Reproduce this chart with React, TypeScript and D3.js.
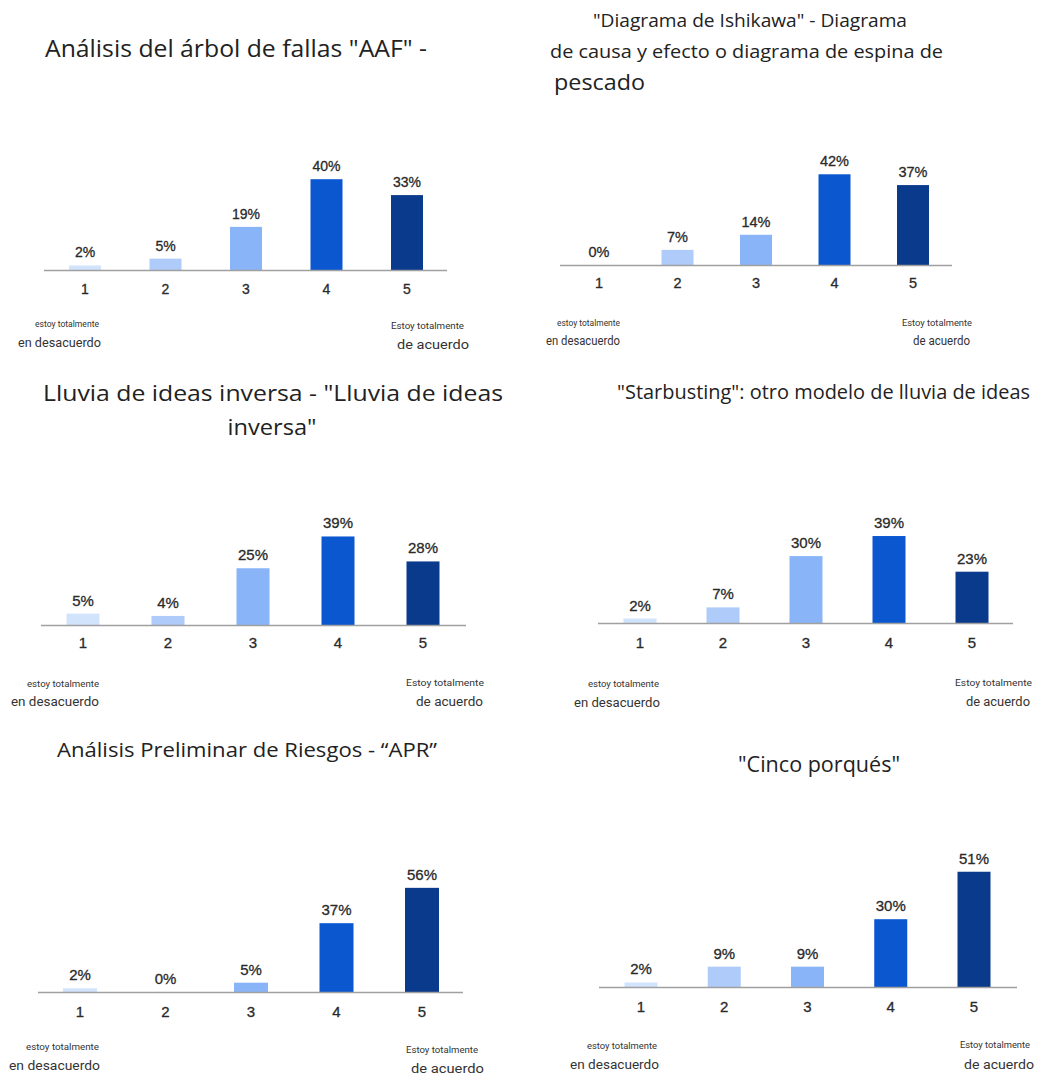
import React from "react";
import * as d3 from "d3";

// Likert scale categories shared by all six charts
const categories = ["1", "2", "3", "4", "5"];

// Response shares (%) per technique
const valuesAAF = [2, 5, 19, 40, 33];
const valuesIshikawa = [0, 7, 14, 42, 37];
const valuesLluvia = [5, 4, 25, 39, 28];
const valuesStarbusting = [2, 7, 30, 39, 23];
const valuesAPR = [2, 0, 5, 37, 56];
const valuesCinco = [2, 9, 9, 30, 51];

// Chart titles (one entry per line)
const titleAAF = ['Análisis del árbol de fallas "AAF" -'];
const titleIshikawa = [
  '"Diagrama de Ishikawa" - Diagrama',
  "de causa y efecto o diagrama de espina de",
  "pescado",
];
const titleLluvia = ['Lluvia de ideas inversa - "Lluvia de ideas', 'inversa"'];
const titleStarbusting = ['"Starbusting": otro modelo de lluvia de ideas'];
const titleAPR = ["Análisis Preliminar de Riesgos - “APR”"];
const titleCinco = ['"Cinco porqués"'];

// Scale end captions
const leftCaption = ["estoy totalmente", "en desacuerdo"];
const rightCaption = ["Estoy totalmente", "de acuerdo"];

const barColors = ["#d2e3fc", "#aecbfa", "#8ab4f8", "#0b57d0", "#0a3a8c"];

type TitleLine = { x: number; y: number; size: number; w: number; anchor?: string };
type Caption = { x: number; y: number; w: number };

type PanelSpec = {
  values: number[];
  title: string[];
  titleLines: TitleLine[];
  axisY: number;
  axisX: [number, number];
  centers: [number, number];
  barW: number;
  pxPerPct: number;
  tickY: number;
  numSize: number;
  caps: Caption[]; // small left, big left, small right, big right
};

const panels: PanelSpec[] = [
  {
    values: valuesAAF,
    title: titleAAF,
    titleLines: [{ x: 45, y: 57, size: 23, w: 382 }],
    axisY: 270,
    axisX: [44, 447],
    centers: [85, 407],
    barW: 32,
    pxPerPct: 2.27,
    tickY: 294,
    numSize: 14,
    caps: [
      { x: 35, y: 327, w: 64 },
      { x: 18, y: 347, w: 83 },
      { x: 391, y: 329, w: 73 },
      { x: 397, y: 349, w: 72 },
    ],
  },
  {
    values: valuesIshikawa,
    title: titleIshikawa,
    titleLines: [
      { x: 593, y: 27, size: 19, w: 314 },
      { x: 550, y: 58, size: 19, w: 393 },
      { x: 554, y: 90, size: 22, w: 91 },
    ],
    axisY: 265,
    axisX: [560, 952],
    centers: [599, 913],
    barW: 32,
    pxPerPct: 2.16,
    tickY: 288,
    numSize: 14.5,
    caps: [
      { x: 557, y: 326, w: 63 },
      { x: 546, y: 345, w: 74 },
      { x: 902, y: 326, w: 70 },
      { x: 913, y: 345, w: 57 },
    ],
  },
  {
    values: valuesLluvia,
    title: titleLluvia,
    titleLines: [
      { x: 43, y: 401, size: 22, w: 460 },
      { x: 272, y: 435, size: 22, w: 89, anchor: "middle" },
    ],
    axisY: 625,
    axisX: [41, 466],
    centers: [83, 423],
    barW: 33,
    pxPerPct: 2.27,
    tickY: 648,
    numSize: 15,
    caps: [
      { x: 27, y: 687, w: 72 },
      { x: 11, y: 706, w: 88 },
      { x: 406, y: 686, w: 78 },
      { x: 416, y: 706, w: 67 },
    ],
  },
  {
    values: valuesStarbusting,
    title: titleStarbusting,
    titleLines: [{ x: 617, y: 399, size: 19.5, w: 413 }],
    axisY: 623,
    axisX: [598, 1013],
    centers: [640, 972],
    barW: 33,
    pxPerPct: 2.23,
    tickY: 648,
    numSize: 15,
    caps: [
      { x: 588, y: 687, w: 71 },
      { x: 574, y: 707, w: 86 },
      { x: 955, y: 686, w: 77 },
      { x: 966, y: 706, w: 64 },
    ],
  },
  {
    values: valuesAPR,
    title: titleAPR,
    titleLines: [{ x: 57, y: 757, size: 20.5, w: 380 }],
    axisY: 992,
    axisX: [38, 463],
    centers: [80, 422],
    barW: 34,
    pxPerPct: 1.86,
    tickY: 1017,
    numSize: 15,
    caps: [
      { x: 26, y: 1050, w: 73 },
      { x: 9, y: 1070, w: 91 },
      { x: 406, y: 1053, w: 72 },
      { x: 411, y: 1073, w: 73 },
    ],
  },
  {
    values: valuesCinco,
    title: titleCinco,
    titleLines: [{ x: 738, y: 772, size: 21, w: 162 }],
    axisY: 987,
    axisX: [599, 1017],
    centers: [641, 974],
    barW: 33,
    pxPerPct: 2.26,
    tickY: 1012,
    numSize: 15,
    caps: [
      { x: 587, y: 1049, w: 70 },
      { x: 570, y: 1069, w: 89 },
      { x: 960, y: 1048, w: 70 },
      { x: 964, y: 1069, w: 70 },
    ],
  },
];

const TITLE_FONT = "'Open Sans', Roboto, sans-serif";
const CAPTION_FONT = "Roboto, 'Noto Sans', sans-serif";
const NUM_FONT = "'Liberation Sans', Arial, sans-serif";

function Panel({ spec }: { spec: PanelSpec }) {
  const x = d3.scalePoint<string>().domain(categories).range(spec.centers);
  const y = d3
    .scaleLinear()
    .domain([0, 100])
    .range([spec.axisY, spec.axisY - 100 * spec.pxPerPct]);

  const capTexts = [leftCaption[0], leftCaption[1], rightCaption[0], rightCaption[1]];

  return (
    <g>
      {spec.title.map((t, i) => {
        const l = spec.titleLines[i];
        return (
          <text
            key={"t" + i}
            x={l.x}
            y={l.y}
            fontSize={l.size}
            fontFamily={TITLE_FONT}
            fill="#222"
            textAnchor={l.anchor || "start"}
            textLength={l.w}
            lengthAdjust="spacingAndGlyphs"
          >
            {t}
          </text>
        );
      })}
      {spec.values.map((v, i) => {
        const cx = x(categories[i]) as number;
        const top = y(v);
        return (
          <g key={"b" + i}>
            {v > 0 && (
              <rect
                x={cx - spec.barW / 2}
                y={top}
                width={spec.barW}
                height={spec.axisY - top}
                fill={barColors[i]}
              />
            )}
            <text
              x={cx}
              y={top - 8}
              textAnchor="middle"
              fontSize={spec.numSize}
              fontFamily={NUM_FONT}
              fill="#2a2a2a"
              stroke="#2a2a2a"
              strokeWidth={0.3}
            >
              {v}%
            </text>
            <text
              x={cx}
              y={spec.tickY}
              textAnchor="middle"
              fontSize={spec.numSize}
              fontFamily={NUM_FONT}
              fill="#2a2a2a"
              stroke="#2a2a2a"
              strokeWidth={0.3}
            >
              {categories[i]}
            </text>
          </g>
        );
      })}
      <line
        x1={spec.axisX[0]}
        x2={spec.axisX[1]}
        y1={spec.axisY + 0.5}
        y2={spec.axisY + 0.5}
        stroke="#a0a0a0"
        strokeWidth={1.5}
      />
      {spec.caps.map((c, i) => (
        <text
          key={"c" + i}
          x={c.x}
          y={c.y}
          fontSize={i % 2 === 0 ? 8.5 : 12}
          fontFamily={CAPTION_FONT}
          fill="#333"
          textLength={c.w}
          lengthAdjust="spacingAndGlyphs"
        >
          {capTexts[i]}
        </text>
      ))}
    </g>
  );
}

export default function App() {
  return (
    <svg
      width={1056}
      height={1075}
      viewBox="0 0 1056 1075"
      style={{ position: "absolute", left: 0, top: 0, background: "#fff" }}
    >
      <rect width={1056} height={1075} fill="#fff" />
      {panels.map((p, i) => (
        <Panel key={i} spec={p} />
      ))}
    </svg>
  );
}
